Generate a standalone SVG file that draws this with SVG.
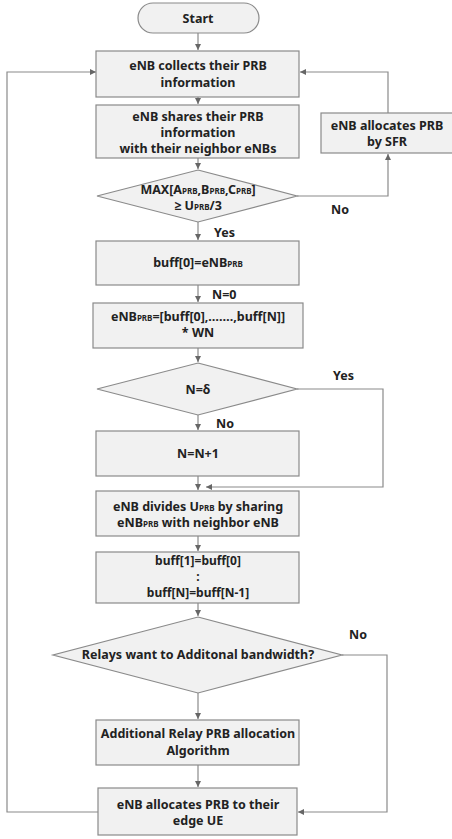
<svg xmlns="http://www.w3.org/2000/svg" width="452" height="839" viewBox="0 0 452 839">
<style>
.box{fill:#f1f1f1;stroke:#8a8a8a;stroke-width:1.2}
.t{font-family:"Noto Sans","Open Sans",sans-serif;font-weight:bold;font-size:12.5px;fill:#222;text-anchor:middle}
.s{font-size:8px}
.lbl{font-family:"Noto Sans","Open Sans",sans-serif;font-weight:bold;font-size:12.5px;fill:#222}
.c{fill:none;stroke:#8a8a8a;stroke-width:1.2}
</style>
<defs>
<marker id="ah" markerWidth="8" markerHeight="8" refX="6" refY="3" orient="auto" markerUnits="userSpaceOnUse">
<path d="M0,0 L6,3 L0,6 Z" fill="#666"/>
</marker>
</defs>
<rect width="452" height="839" fill="#fff"/>
<g id="connectors">
<line class="c" x1="198" y1="33" x2="198" y2="50" marker-end="url(#ah)"/>
<line class="c" x1="198" y1="97" x2="198" y2="104" marker-end="url(#ah)"/>
<line class="c" x1="198" y1="158" x2="198" y2="169" marker-end="url(#ah)"/>
<polyline class="c" points="297,196 388,196 388,154" marker-end="url(#ah)"/>
<polyline class="c" points="388,113 388,72 300,72" marker-end="url(#ah)"/>
<line class="c" x1="198" y1="222" x2="198" y2="240" marker-end="url(#ah)"/>
<line class="c" x1="198" y1="285" x2="198" y2="302" marker-end="url(#ah)"/>
<line class="c" x1="198" y1="348" x2="198" y2="362" marker-end="url(#ah)"/>
<line class="c" x1="198" y1="415" x2="198" y2="430" marker-end="url(#ah)"/>
<polyline class="c" points="297,389 383,389 383,487 206,487" marker-end="url(#ah)"/>
<line class="c" x1="198" y1="476" x2="198" y2="490" marker-end="url(#ah)"/>
<line class="c" x1="198" y1="536" x2="198" y2="551" marker-end="url(#ah)"/>
<line class="c" x1="198" y1="603" x2="198" y2="616" marker-end="url(#ah)"/>
<polyline class="c" points="342,655 387,655 387,812 298,812" marker-end="url(#ah)"/>
<line class="c" x1="198" y1="693" x2="198" y2="719" marker-end="url(#ah)"/>
<line class="c" x1="198" y1="765" x2="198" y2="787" marker-end="url(#ah)"/>
<polyline class="c" points="98,812 7,812 7,72 96,72" marker-end="url(#ah)"/>
<text class="lbl" x="331" y="214">No</text>
<text class="lbl" x="214" y="237">Yes</text>
<text class="lbl" x="212" y="299">N=0</text>
<text class="lbl" x="333" y="380">Yes</text>
<text class="lbl" x="216" y="428">No</text>
<text class="lbl" x="349" y="639">No</text>
</g>
<g id="start">
<rect x="138" y="3" width="121" height="30" rx="15" class="box"/>
<text class="t" x="198" y="23">Start</text>
</g>
<g id="collect">
<rect x="96" y="51" width="203" height="46" class="box"/>
<text class="t" x="198" y="70">eNB collects their PRB</text>
<text class="t" x="198" y="87">information</text>
</g>
<g id="share">
<rect x="96" y="105" width="203" height="53" class="box"/>
<text class="t" x="198" y="121">eNB shares their PRB</text>
<text class="t" x="198" y="137">information</text>
<text class="t" x="198" y="153">with their neighbor eNBs</text>
</g>
<g id="sfr">
<rect x="321" y="113" width="135" height="40" class="box"/>
<text class="t" x="387" y="130">eNB allocates PRB</text>
<text class="t" x="387" y="146">by SFR</text>
</g>
<g id="dmax">
<polygon points="198,170 297,196 198,222 97,196" class="box"/>
<text class="t" x="198" y="194">MAX[A<tspan class="s">PRB</tspan>,B<tspan class="s">PRB</tspan>,C<tspan class="s">PRB</tspan>]</text>
<text class="t" x="198" y="210">≥ U<tspan class="s">PRB</tspan>/3</text>
</g>
<g id="buff0">
<rect x="96" y="241" width="203" height="44" class="box"/>
<text class="t" x="198" y="267">buff[0]=eNB<tspan class="s">PRB</tspan></text>
</g>
<g id="enbprb">
<rect x="93" y="303" width="210" height="45" class="box"/>
<text class="t" x="198" y="321">eNB<tspan class="s">PRB</tspan>=[buff[0],…….,buff[N]]</text>
<text class="t" x="198" y="337">* WN</text>
</g>
<g id="dn">
<polygon points="198,363 297,389 198,415 97,389" class="box"/>
<text class="t" x="198" y="394">N=δ</text>
</g>
<g id="ninc">
<rect x="96" y="431" width="203" height="45" class="box"/>
<text class="t" x="198" y="458">N=N+1</text>
</g>
<g id="divide">
<rect x="96" y="491" width="203" height="45" class="box"/>
<text class="t" x="198" y="511">eNB divides U<tspan class="s">PRB</tspan> by sharing</text>
<text class="t" x="198" y="527">eNB<tspan class="s">PRB</tspan> with neighbor eNB</text>
</g>
<g id="shift">
<rect x="96" y="552" width="203" height="51" class="box"/>
<text class="t" x="198" y="565" style="font-size:12px">buff[1]=buff[0]</text>
<text class="t" x="198" y="581" style="font-size:12px">:</text>
<text class="t" x="198" y="597" style="font-size:12px">buff[N]=buff[N-1]</text>
</g>
<g id="drelay">
<polygon points="198,617 342,655 198,693 53,655" class="box"/>
<text class="t" x="198" y="659">Relays want to Additonal bandwidth?</text>
</g>
<g id="addl">
<rect x="96" y="720" width="203" height="45" class="box"/>
<text class="t" x="198" y="738">Additional Relay PRB allocation</text>
<text class="t" x="198" y="755">Algorithm</text>
</g>
<g id="edge">
<rect x="98" y="788" width="199" height="47" class="box"/>
<text class="t" x="198" y="809">eNB allocates PRB to their</text>
<text class="t" x="198" y="825">edge UE</text>
</g>
</svg>
